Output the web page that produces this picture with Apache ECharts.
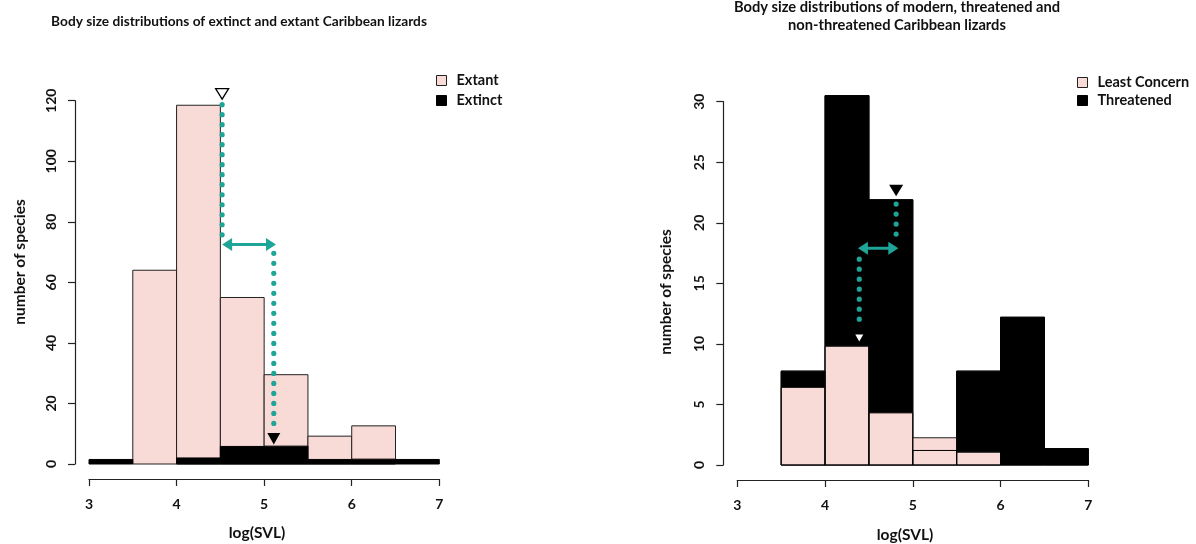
<!DOCTYPE html>
<html><head><meta charset="utf-8">
<script src="https://cdn.jsdelivr.net/npm/echarts@6/dist/echarts.min.js"></script>
<style>html,body{margin:0;padding:0;background:#fff}#c{width:1196px;height:544px}</style>
</head><body><div id="c"></div>
<script>
// ---------- data ----------
var binWidth = 0.5;
// Left panel: extinct vs extant
var leftBinStarts   = [3, 3.5, 4, 4.5, 5, 5.5, 6, 6.5];
var extantCounts    = [0, 64, 118.5, 55, 29.5, 9.2, 12.6, 0];
var extinctCounts   = [1.5, 0, 2, 5.8, 5.9, 1.5, 1.6, 1.5];
var leftYTicks      = [0, 20, 40, 60, 80, 100, 120];
// Right panel: least concern vs threatened
var rightBinStarts     = [3.5, 4, 4.5, 5, 5.5, 6, 6.5];
var leastConcernCounts = [6.4, 9.8, 4.3, 2.25, 1.05, 0, 0];
var threatenedCounts   = [7.75, 30.5, 21.9, 1.2, 7.75, 12.2, 1.35];
var rightYTicks        = [0, 5, 10, 15, 20, 25, 30];
var xTicks = [3, 4, 5, 6, 7];
// Annotations (medians and shift arrows)
var extantMedian = 4.52, extinctMedian = 5.11;
var leftOpenTri   = [[extantMedian, 120.5]];
var leftBlackTri  = [[extinctMedian, 6.4]];
var leftDots      = [[extantMedian, 118.7, 75.6], [extinctMedian, 69.6, 11.2]];
var leftArrow     = [[4.52, 5.135, 72.5]];
var lcMedian = 4.39, thrMedian = 4.81;
var rightBlackTri = [[thrMedian, 22.2]];
var rightWhiteTri = [[lcMedian, 10.2]];
var rightDots     = [[thrMedian, 21.55, 19.0], [lcMedian, 17.0, 11.3]];
var rightArrow    = [[4.375, 4.835, 17.9]];

// ---------- styles ----------
var FONT = 'Lato, "Open Sans", sans-serif';
var PINK = '#f8dad6', EDGE = '#222', TEAL = '#1fa597';

function bins(starts, vals) {
  return starts.map(function (s, i) { return [s, s + binWidth, vals[i]]; });
}
function barRender(fill, stroke) {
  return function (params, api) {
    var v = api.value(2);
    if (!v) return null;
    var p0 = api.coord([api.value(0), v]);
    var p1 = api.coord([api.value(1), 0]);
    return { type: 'rect',
      shape: { x: p0[0], y: p0[1], width: p1[0] - p0[0], height: p1[1] - p0[1] },
      style: { fill: fill, stroke: stroke, lineWidth: 1 } };
  };
}
function triRender(w, h, fill, stroke) {
  return function (params, api) {
    var p = api.coord([api.value(0), api.value(1)]);
    return { type: 'polygon',
      shape: { points: [[p[0], p[1]], [p[0] - w / 2, p[1] - h], [p[0] + w / 2, p[1] - h]] },
      style: { fill: fill, stroke: stroke, lineWidth: stroke === 'none' ? 0 : 1.3 } };
  };
}
function dotRender(params, api) {
  var a = api.coord([api.value(0), api.value(1)]);
  var b = api.coord([api.value(0), api.value(2)]);
  return { type: 'line', shape: { x1: a[0], y1: a[1], x2: b[0], y2: b[1] },
    style: { stroke: TEAL, lineWidth: 5.2, lineDash: [0.01, 10], lineCap: 'round' } };
}
function arrowRender(params, api) {
  var a = api.coord([api.value(0), api.value(2)]);
  var b = api.coord([api.value(1), api.value(2)]);
  var L = 10, H = 6.5;
  return { type: 'group', children: [
    { type: 'line', shape: { x1: a[0] + 4, y1: a[1], x2: b[0] - 4, y2: b[1] },
      style: { stroke: TEAL, lineWidth: 3.2 } },
    { type: 'polygon', shape: { points: [[a[0], a[1]], [a[0] + L, a[1] - H], [a[0] + L, a[1] + H]] },
      style: { fill: TEAL } },
    { type: 'polygon', shape: { points: [[b[0], b[1]], [b[0] - L, b[1] - H], [b[0] - L, b[1] + H]] },
      style: { fill: TEAL } }
  ] };
}
function custom(name, idx, data, render, extra) {
  var s = { type: 'custom', name: name, xAxisIndex: idx, yAxisIndex: idx, data: data,
    renderItem: render, clip: false, silent: true, encode: { x: [0, 1], y: 2 } };
  for (var k in extra) s[k] = extra[k];
  return s;
}
var lblStyle = { fontFamily: FONT, fontWeight: 'bold', fontSize: 14, color: '#111' };
function xAxis(idx) {
  return { gridIndex: idx, type: 'value', min: xTicks[0], max: xTicks[xTicks.length - 1],
    interval: xTicks[1] - xTicks[0], offset: 15,
    axisLine: { show: true, onZero: false, lineStyle: { color: EDGE, width: 1.2 } },
    axisTick: { show: true, length: 7, lineStyle: { color: EDGE, width: 1.2 } },
    axisLabel: Object.assign({ margin: 18 }, lblStyle), splitLine: { show: false } };
}
function yAxis(idx, ticks) {
  return { gridIndex: idx, type: 'value', min: ticks[0], max: ticks[ticks.length - 1],
    interval: ticks[1] - ticks[0], offset: 14,
    axisLine: { show: true, onZero: false, lineStyle: { color: EDGE, width: 1.2 } },
    axisTick: { show: true, length: 7, lineStyle: { color: EDGE, width: 1.2 } },
    axisLabel: Object.assign({ margin: 17, rotate: 90 }, lblStyle), splitLine: { show: false } };
}
function gtext(text, x, y, rot, size) {
  return { type: 'text', x: x, y: y, rotation: rot || 0,
    style: { text: text, font: 'bold ' + (size || 14) + 'px ' + FONT, fill: '#111',
      align: 'center', verticalAlign: 'middle' } };
}

var chart = echarts.init(document.getElementById('c'), null, { renderer: 'canvas' });
chart.setOption({
  animation: false,
  backgroundColor: '#fff',
  title: [
    { text: 'Body size distributions of extinct and extant Caribbean lizards', left: 234, top: 8,
      textAlign: 'center', textStyle: { fontFamily: FONT, fontWeight: 'bold', fontSize: 13.7, color: '#111', lineHeight: 18 } },
    { text: 'Body size distributions of modern, threatened and\nnon-threatened Caribbean lizards', left: 892, top: -7,
      textAlign: 'center', textStyle: { fontFamily: FONT, fontWeight: 'bold', fontSize: 14.7, color: '#111', lineHeight: 18 } }
  ],
  legend: [
    { data: [{ name: 'Extant', itemStyle: { color: PINK, borderColor: EDGE, borderWidth: 1 } },
             { name: 'Extinct', itemStyle: { color: '#000', borderColor: '#000', borderWidth: 1 } }],
      orient: 'vertical', left: 436, top: 73, padding: 0, icon: 'rect', itemWidth: 10, itemHeight: 10, itemGap: 5,
      selectedMode: false,
      textStyle: { fontFamily: FONT, fontWeight: 'bold', fontSize: 14.5, lineHeight: 14, color: '#111', padding: [0, 0, 0, 5] } },
    { data: [{ name: 'Least Concern', itemStyle: { color: PINK, borderColor: EDGE, borderWidth: 1 } },
             { name: 'Threatened', itemStyle: { color: '#000', borderColor: '#000', borderWidth: 1 } }],
      orient: 'vertical', left: 1077, top: 75, padding: 0, icon: 'rect', itemWidth: 10, itemHeight: 10, itemGap: 3,
      selectedMode: false,
      textStyle: { fontFamily: FONT, fontWeight: 'bold', fontSize: 14.5, lineHeight: 14, color: '#111', padding: [0, 0, 0, 5] } }
  ],
  grid: [
    { left: 89, top: 100.7, width: 350.3, height: 363.3 },
    { left: 737.3, top: 101.7, width: 351, height: 363.3 }
  ],
  xAxis: [xAxis(0), xAxis(1)],
  yAxis: [yAxis(0, leftYTicks), yAxis(1, rightYTicks)],
  graphic: [
    gtext('number of species', 20, 262, Math.PI / 2, 15.5),
    gtext('number of species', 666, 292, Math.PI / 2, 15.5),
    gtext('log(SVL)', 257, 533, 0, 15.5),
    gtext('log(SVL)', 905, 535, 0, 15.5)
  ],
  series: [
    custom('Extant', 0, bins(leftBinStarts, extantCounts), barRender(PINK, EDGE), { itemStyle: { color: PINK } }),
    custom('Extinct', 0, bins(leftBinStarts, extinctCounts), barRender('#000', '#000'), { itemStyle: { color: '#000' } }),
    custom('extantMedian', 0, leftOpenTri, triRender(13, 10.5, '#fff', '#000'), { encode: { x: 0, y: 1 } }),
    custom('medianShift', 0, leftDots, dotRender, { encode: { x: 0, y: [1, 2] } }),
    custom('medianArrow', 0, leftArrow, arrowRender),
    custom('extinctMedian', 0, leftBlackTri, triRender(13, 11.5, '#000', 'none'), { encode: { x: 0, y: 1 } }),

    custom('Threatened', 1, bins(rightBinStarts, threatenedCounts), barRender('#000', '#000'), { itemStyle: { color: '#000' } }),
    custom('Least Concern', 1, bins(rightBinStarts, leastConcernCounts), barRender(PINK, EDGE), { itemStyle: { color: PINK } }),
    custom('threatenedOutline', 1, bins(rightBinStarts, threatenedCounts), barRender('none', '#000')),
    custom('lcMedian', 1, rightWhiteTri, triRender(8, 7, '#fff', 'none'), { encode: { x: 0, y: 1 } }),
    custom('thrMedian', 1, rightBlackTri, triRender(14, 11.5, '#000', 'none'), { encode: { x: 0, y: 1 } }),
    custom('shiftDots', 1, rightDots, dotRender, { encode: { x: 0, y: [1, 2] } }),
    custom('shiftArrow', 1, rightArrow, arrowRender)
  ]
});
</script>
</body></html>
